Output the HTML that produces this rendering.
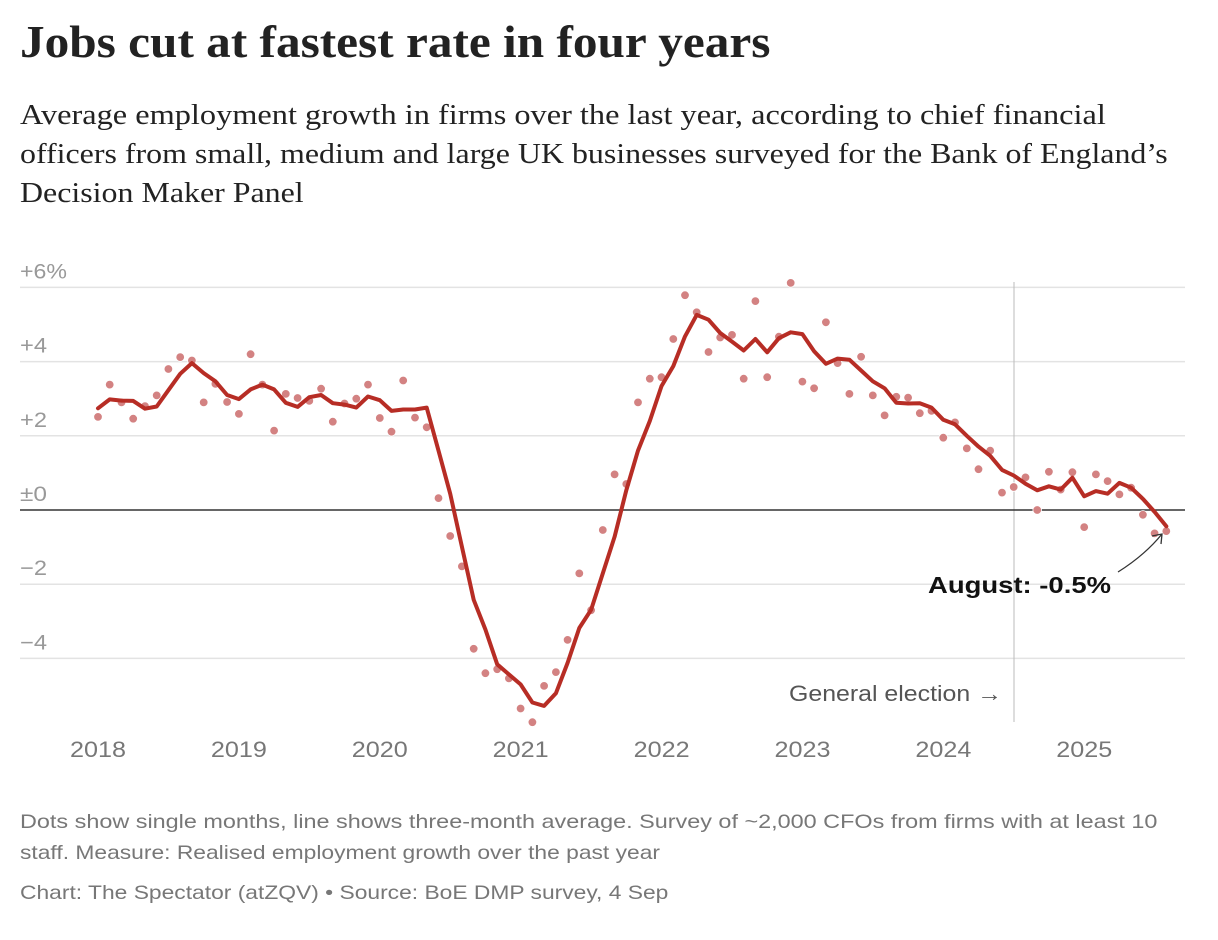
<!DOCTYPE html>
<html><head><meta charset="utf-8"><style>
body{margin:0;width:1218px;height:940px;background:#fff;overflow:hidden;font-family:"Liberation Sans",sans-serif}
.t{position:absolute;left:20px;top:16px;font-family:"Liberation Serif",serif;font-weight:bold;font-size:45px;color:#222;white-space:nowrap;transform:scaleX(1.095);transform-origin:0 0}
.s{position:absolute;left:20px;font-family:"Liberation Serif",serif;font-size:28.5px;color:#222;white-space:nowrap;transform:scaleX(1.125);transform-origin:0 0}
.f{position:absolute;left:20px;font-size:19.5px;color:#777;white-space:nowrap;transform:scaleX(1.17);transform-origin:0 0}
</style></head><body>
<div class="t">Jobs cut at fastest rate in four years</div>
<div class="s" style="top:100px;transform:scaleX(1.135)">Average employment growth in firms over the last year, according to chief financial</div>
<div class="s" style="top:139px;transform:scaleX(1.12)">officers from small, medium and large UK businesses surveyed for the Bank of England’s</div>
<div class="s" style="top:178px;transform:scaleX(1.12)">Decision Maker Panel</div>
<svg id="c" width="1218" height="940" style="position:absolute;left:0;top:0" font-family="Liberation Sans, sans-serif"></svg>
<div class="f" style="top:811px;transform:scaleX(1.2)">Dots show single months, line shows three-month average. Survey of ~2,000 CFOs from firms with at least 10</div>
<div class="f" style="top:842px">staff. Measure: Realised employment growth over the past year</div>
<div class="f" style="top:882px">Chart: The Spectator (atZQV) • Source: BoE DMP survey, 4 Sep</div>
<script>
var line=[2.74,2.98,2.95,2.94,2.73,2.79,3.23,3.67,3.96,3.69,3.47,3.10,2.99,3.25,3.38,3.25,2.89,2.78,3.04,3.10,2.88,2.84,2.76,3.06,2.96,2.67,2.71,2.71,2.76,1.60,0.44,-0.99,-2.42,-3.22,-4.16,-4.43,-4.70,-5.19,-5.28,-4.94,-4.12,-3.18,-2.69,-1.71,-0.72,0.53,1.60,2.40,3.34,3.88,4.68,5.26,5.13,4.77,4.54,4.30,4.61,4.25,4.63,4.79,4.74,4.28,3.94,4.08,4.05,3.76,3.47,3.28,2.89,2.87,2.88,2.76,2.43,2.31,2.00,1.71,1.46,1.08,0.93,0.71,0.53,0.64,0.55,0.87,0.37,0.51,0.44,0.73,0.60,0.30,-0.05,-0.44];
var dots=[2.51,3.38,2.9,2.46,2.80,3.09,3.80,4.12,4.03,2.90,3.4,2.91,2.59,4.20,3.38,2.14,3.13,3.02,2.94,3.27,2.38,2.87,3.0,3.38,2.48,2.11,3.49,2.49,2.23,0.32,-0.70,-1.52,-3.74,-4.40,-4.29,-4.54,-5.35,-5.72,-4.74,-4.37,-3.50,-1.71,-2.7,-0.54,0.96,0.70,2.90,3.54,3.58,4.61,5.79,5.33,4.26,4.65,4.72,3.54,5.63,3.58,4.67,6.12,3.46,3.28,5.06,3.96,3.13,4.13,3.09,2.55,3.05,3.03,2.61,2.67,1.95,2.36,1.66,1.10,1.60,0.47,0.62,0.88,0.00,1.03,0.55,1.02,-0.46,0.96,0.78,0.42,0.6,-0.13,-0.63,-0.57];
function X(i){return 98+i*11.74}function Y(v){return 510-v*37.1}
var s='';
[6,4,2,-2,-4].forEach(function(v){s+='<line x1="20" x2="1185" y1="'+Y(v)+'" y2="'+Y(v)+'" stroke="#e3e3e3" stroke-width="1.5"/>';});
var lab={6:['+6%',47],4:['+4',27],2:['+2',27],0:['±0',27],'-2':['−2',27],'-4':['−4',27]};
[6,4,2,0,-2,-4].forEach(function(v){s+='<text x="20" y="'+(Y(v)-9)+'" font-size="21" fill="#999" textLength="'+lab[v][1]+'" lengthAdjust="spacingAndGlyphs">'+lab[v][0]+'</text>';});
s+='<line x1="1014" x2="1014" y1="282" y2="722" stroke="#bbb" stroke-width="1"/>';
s+='<text x="789" y="701" font-size="22" fill="#555" textLength="213" lengthAdjust="spacingAndGlyphs">General election →</text>';
s+='<line x1="20" x2="1185" y1="510" y2="510" stroke="#333" stroke-width="1.5"/>';
for(var y=0;y<8;y++)s+='<text x="'+(98+y*140.9-28)+'" y="757" font-size="22" fill="#777" textLength="56" lengthAdjust="spacingAndGlyphs">'+(2018+y)+'</text>';
dots.forEach(function(v,i){s+='<circle cx="'+X(i).toFixed(1)+'" cy="'+Y(v).toFixed(1)+'" r="4.3" fill="#d38282" stroke="#fff" stroke-width="0.8"/>';});
s+='<polyline fill="none" stroke="#b72d25" stroke-width="4" stroke-linejoin="round" stroke-linecap="round" points="'+line.map(function(v,i){return X(i).toFixed(1)+','+Y(v).toFixed(1)}).join(' ')+'"/>';
s+='<path d="M1118,572 Q1145,555 1162,534" fill="none" stroke="#333" stroke-width="1.3"/><path d="M1152,536 L1162,534 L1161,544" fill="none" stroke="#333" stroke-width="1.3"/>';
s+='<text x="928" y="593" font-size="23" font-weight="bold" fill="#111" textLength="183" lengthAdjust="spacingAndGlyphs">August: -0.5%</text>';
document.getElementById('c').innerHTML=s;
</script>
</body></html>
